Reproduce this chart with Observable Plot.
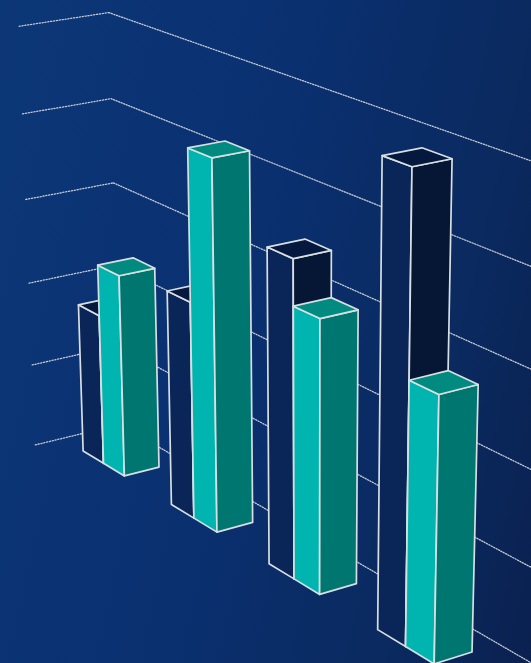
<!DOCTYPE html>
<html><head><meta charset="utf-8">
<script src="https://cdn.jsdelivr.net/npm/d3@7"></script>
<script src="https://cdn.jsdelivr.net/npm/@observablehq/plot@0.6"></script>
<style>
html,body{margin:0;padding:0;background:#0b2a60}
svg{display:block;background:linear-gradient(103deg,#0c3777 0%,#0a3070 45%,#0a2a60 78%,#0a2150 100%)}
</style></head><body>
<div id="chart"></div>
<script>
const width = 531, height = 663;

// Chart values
const categories = ["A", "B", "C", "D"];
const navyValues = [36, 50, 70, 98];
const tealValues = [48, 84, 60, 56];
const ticks = [0, 20, 40, 60, 80, 100];

// Scene dimensions, in bar widths
const unitsPerValue = 2.151 / 20;
const categoryStep = 4.173;
const barDepth = 1;
const wallX = -1.04, backZ = 1.7, frontZ = -0.79, wallEndX = 22;

// Camera: rotation, translation, focal length, principal point
const rot = [[0.54482, -0.01206, 0.83846], [0.29014, -0.93543, -0.20198], [-0.78676, -0.35332, 0.50614]];
const trans = [-3.418, 1.441, 68.355];
const focal = 2723.2, cx = 219.3, cy = 393.5;

function project(X, Y, Z) {
  const [a, b, c] = rot.map((r, i) => r[0] * X + r[1] * Y + r[2] * Z + trans[i]);
  return {px: cx + focal * a / c, py: cy + focal * b / c};
}

// One closed outline per visible face of a bar
const palette = {
  navy: {front: "#0a2558", side: "#061736", top: "#05183e"},
  teal: {front: "#00b5b0", side: "#007671", top: "#008a80"}
};
const faces = [];
function addFace(id, fill, corners) {
  for (const c of [...corners, corners[0]]) faces.push({face: id, fill, ...project(...c)});
}
function addBar(id, x0, value, colors) {
  const x1 = x0 + 1, h = value * unitsPerValue;
  addFace(id + "front", colors.front, [[x0, 0, 0], [x1, 0, 0], [x1, h, 0], [x0, h, 0]]);
  addFace(id + "side", colors.side, [[x1, 0, 0], [x1, 0, barDepth], [x1, h, barDepth], [x1, h, 0]]);
  addFace(id + "top", colors.top, [[x0, h, 0], [x1, h, 0], [x1, h, barDepth], [x0, h, barDepth]]);
}
categories.forEach((c, i) => {
  addBar(c + "navy", i * categoryStep, navyValues[i], palette.navy);
  addBar(c + "teal", i * categoryStep + 1, tealValues[i], palette.teal);
});

// Grid lines on the back wall and the side wall
const backLines = ticks.flatMap(t => [
  {tick: t, ...project(wallX, t * unitsPerValue, backZ)},
  {tick: t, ...project(wallEndX, t * unitsPerValue, backZ)}
]);
const sideLines = ticks.flatMap(t => [
  {tick: t, ...project(wallX, t * unitsPerValue, frontZ)},
  {tick: t, ...project(wallX, t * unitsPerValue, backZ)}
]);

const chart = Plot.plot({
  width, height, margin: 0,
  x: {domain: [0, width], range: [-0.5, width - 0.5], axis: null},
  y: {domain: [0, height], range: [-0.5, height - 0.5], axis: null},
  color: {type: "identity"},
  marks: [
    Plot.line(backLines, {x: "px", y: "py", z: "tick", stroke: "#c2c9d5", strokeWidth: 1.3, strokeDasharray: "1.2 1.5", clip: true}),
    Plot.line(sideLines, {x: "px", y: "py", z: "tick", stroke: "#c2c9d5", strokeWidth: 1.3, strokeDasharray: "1.2 1.7", clip: true}),
    Plot.line(faces, {x: "px", y: "py", z: "face", fill: "fill", stroke: "#d8dfe2", strokeWidth: 1.7, strokeLinejoin: "round", clip: true})
  ]
});
document.getElementById("chart").append(chart);
</script></body></html>
